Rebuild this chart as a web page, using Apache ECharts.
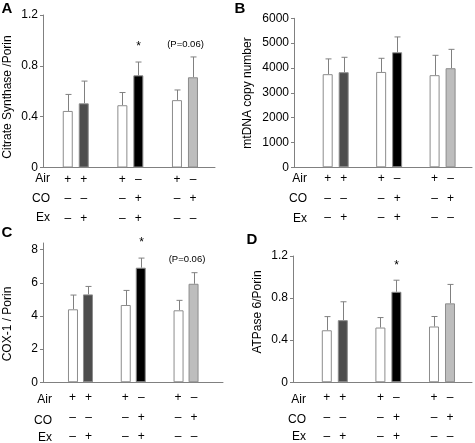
<!DOCTYPE html>
<html>
<head>
<meta charset="utf-8">
<script src="https://cdn.jsdelivr.net/npm/echarts@6/dist/echarts.min.js"></script>
<style>
html,body{margin:0;padding:0;background:#fff;}
#c{width:475px;height:443px;}
</style>
</head>
<body>
<div id="c"></div>
<script>
// ---- data ----
const groups = [0, 1, 2];
const airRow = [['+', '+'], ['+', '–'], ['+', '–']];
const coRow  = [['–', '–'], ['–', '+'], ['–', '+']];
const exRow  = [['–', '+'], ['–', '+'], ['–', '–']];
const rowNames = ['Air', 'CO', 'Ex'];

// Panel A: Citrate Synthase / Porin
const aCtrl = [0.445, 0.49, 0.53];
const aCtrlErr = [0.13, 0.10, 0.08];
const aTrt = [0.505, 0.725, 0.71];
const aTrtErr = [0.175, 0.105, 0.16];
const aTicks = [0, 0.4, 0.8, 1.2];

// Panel B: mtDNA copy number
const bCtrl = [3750, 3840, 3710];
const bCtrlErr = [615, 550, 800];
const bTrt = [3830, 4630, 3990];
const bTrtErr = [600, 620, 760];
const bTicks = [0, 1000, 2000, 3000, 4000, 5000, 6000];

// Panel C: COX-1 / Porin
const cCtrl = [4.40, 4.66, 4.34];
const cCtrlErr = [0.86, 0.88, 0.60];
const cTrt = [5.30, 6.91, 5.94];
const cTrtErr = [0.48, 0.58, 0.67];
const cTicks = [0, 2, 4, 6, 8];

// Panel D: ATPase 6 / Porin
const dCtrl = [0.494, 0.52, 0.53];
const dCtrlErr = [0.13, 0.095, 0.095];
const dTrt = [0.59, 0.86, 0.75];
const dTrtErr = [0.175, 0.11, 0.18];
const dTicks = [0, 0.4, 0.8, 1.2];

// annotations above the treated bars
const aNotes = ['', '*', '(P=0.06)'];
const bNotes = ['', '', ''];
const cNotes = ['', '*', '(P=0.06)'];
const dNotes = ['', '*', ''];

// ---- styling ----
const FONT = 'Liberation Sans, Arial, sans-serif';
const trtColors = ['#4d4d4d', '#000000', '#bdbdbd'];
const axisColor = '#808080';

const panels = [
  {key:'A', title:'Citrate Synthase /Porin', ctrl:aCtrl, ctrlErr:aCtrlErr, trt:aTrt, trtErr:aTrtErr, ticks:aTicks, notes:aNotes,
   grid:{left:43, top:15, width:172, height:152.5}, yMax:1.2, xMin:-0.6, xMax:2.55, off:8, gap:'60%', lblMargin:2,
   letter:[7,9], ytitle:[8,97], rowRight:50, rowY:[179,198.5,218]},
  {key:'B', title:'mtDNA copy number', ctrl:bCtrl, ctrlErr:bCtrlErr, trt:bTrt, trtErr:bTrtErr, ticks:bTicks, notes:bNotes,
   grid:{left:294, top:18.3, width:178, height:149}, yMax:6000, xMin:-0.78, xMax:2.55, off:8, gap:'60%', lblMargin:2,
   letter:[240,9], ytitle:[248,93], rowRight:307, rowY:[179,199,218.5]},
  {key:'C', title:'COX-1 / Porin', ctrl:cCtrl, ctrlErr:cCtrlErr, trt:cTrt, trtErr:cTrtErr, ticks:cTicks, notes:cNotes,
   grid:{left:43, top:243, width:180, height:141}, yMax:8.4, xMin:-0.71, xMax:2.7, off:7.5, gap:'50%', lblMargin:6,
   letter:[7,233], ytitle:[8,324], rowRight:52, rowY:[400,421,438]},
  {key:'D', title:'ATPase 6/Porin', ctrl:dCtrl, ctrlErr:dCtrlErr, trt:dTrt, trtErr:dTrtErr, ticks:dTicks, notes:dNotes,
   grid:{left:293, top:256, width:179, height:128}, yMax:1.2, xMin:-0.78, xMax:2.56, off:8, gap:'60%', lblMargin:6,
   letter:[252,240], ytitle:[258,312], rowRight:306, rowY:[400,420,437]}
];

function signLabel(i) {
  const rows = [airRow[i], coRow[i], exRow[i]];
  return rows.map(r => '{s|' + r[0] + '}{s|' + r[1] + '}').join('\n');
}

const grids = [], xAxes = [], yAxes = [], series = [], graphics = [];

panels.forEach((p, pi) => {
  grids.push(Object.assign({containLabel:false}, p.grid));
  xAxes.push({
    type:'value', gridIndex:pi, min:p.xMin, max:p.xMax,
    axisLine:{show:true, onZero:false, lineStyle:{color:axisColor, width:1}},
    axisTick:{show:false}, splitLine:{show:false},
    axisLabel:{
      customValues:groups, margin:p.lblMargin,
      formatter:(v) => signLabel(Math.round(v)),
      rich:{s:{width:16, align:'center', fontSize:12, lineHeight:19.5, fontFamily:FONT, color:'#000'}}
    }
  });
  yAxes.push({
    type:'value', gridIndex:pi, min:0, max:p.yMax,
    axisLine:{show:true, onZero:false, lineStyle:{color:axisColor, width:1}},
    axisTick:{show:true, length:3, customValues:p.ticks, lineStyle:{color:axisColor}},
    splitLine:{show:false},
    axisLabel:{customValues:p.ticks, margin:5, fontSize:12, fontFamily:FONT, color:'#000',
      formatter:(v) => String(v)}
  });
  // control (Air) bars - white
  series.push({
    type:'bar', xAxisIndex:pi, yAxisIndex:pi, barWidth:10, barGap:p.gap,
    data:groups.map(g => [g, p.ctrl[g]]),
    itemStyle:{color:'#ffffff', borderColor:'#8c8c8c', borderWidth:1},
    emphasis:{disabled:true}, animation:false
  });
  // treated bars
  series.push({
    type:'bar', xAxisIndex:pi, yAxisIndex:pi, barWidth:10, barGap:p.gap,
    data:groups.map(g => ({value:[g, p.trt[g]], itemStyle:{color:trtColors[g], borderColor:'#8c8c8c', borderWidth:1}})),
    emphasis:{disabled:true}, animation:false
  });
  // error bars (upper whisker) + annotations
  const errData = [];
  groups.forEach(g => {
    errData.push([g, p.ctrl[g], p.ctrlErr[g], -1]);
    errData.push([g, p.trt[g], p.trtErr[g], 1]);
  });
  const off = p.off, notes = p.notes;
  series.push({
    type:'custom', xAxisIndex:pi, yAxisIndex:pi, clip:false, animation:false, silent:true,
    data:errData,
    renderItem:(params, api) => {
      const g = api.value(0), m = api.value(1), e = api.value(2), side = api.value(3);
      const base = api.coord([g, m]);
      const top = api.coord([g, m + e]);
      const x = Math.round(base[0] + side * off) + 0.5;
      const children = [
        {type:'line', shape:{x1:x, y1:base[1], x2:x, y2:top[1]}, style:{stroke:'#808080', lineWidth:1}},
        {type:'line', shape:{x1:x - 3, y1:top[1], x2:x + 3, y2:top[1]}, style:{stroke:'#808080', lineWidth:1}}
      ];
      if (side > 0 && notes[g]) {
        const n = notes[g];
        if (n === '*') {
          children.push({type:'text', x:x, y:top[1] - 15, style:{text:n, fontSize:12, fontFamily:FONT, fill:'#000', align:'center', verticalAlign:'middle'}});
        } else {
          children.push({type:'text', x:x - off, y:top[1] - 13, style:{text:n, fontSize:9.5, fontFamily:FONT, fill:'#000', align:'center', verticalAlign:'middle'}});
        }
      }
      return {type:'group', children:children};
    }
  });
  // panel letter
  graphics.push({type:'text', x:p.letter[0], y:p.letter[1], style:{text:p.key, font:'bold 15px ' + FONT, fill:'#000', align:'center', verticalAlign:'middle'}});
  // y-axis title
  graphics.push({type:'text', x:p.ytitle[0], y:p.ytitle[1], rotation:Math.PI/2,
    style:{text:p.title, fontSize:12, fontFamily:FONT, fill:'#000', align:'center', verticalAlign:'middle'}});
  // row labels
  rowNames.forEach((r, ri) => {
    graphics.push({type:'text', x:p.rowRight, y:p.rowY[ri], style:{text:r, fontSize:12, fontFamily:FONT, fill:'#000', align:'right', verticalAlign:'middle'}});
  });
});

const chart = echarts.init(document.getElementById('c'), null, {renderer:'canvas'});
chart.setOption({
  animation:false,
  backgroundColor:'#ffffff',
  textStyle:{fontFamily:FONT},
  grid:grids, xAxis:xAxes, yAxis:yAxes, series:series, graphic:graphics
});
</script>
</body>
</html>
